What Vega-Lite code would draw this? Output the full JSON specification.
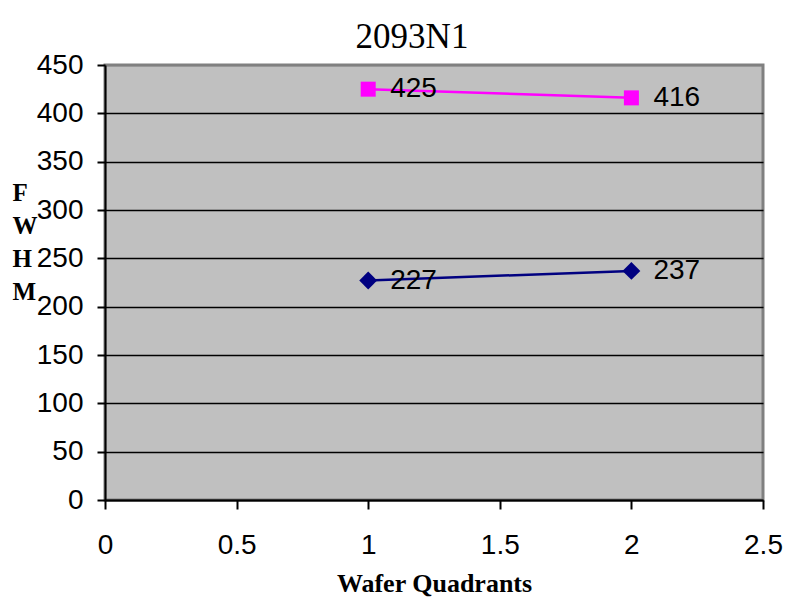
{
  "$schema": "https://vega.github.io/schema/vega-lite/v6.json",
  "width": 658,
  "height": 435,
  "autosize": {"type": "none"},
  "padding": {"left": 105, "top": 65, "right": 34, "bottom": 110},
  "background": "white",
  "title": {
    "text": "2093N1",
    "font": "Liberation Serif",
    "fontSize": 35,
    "fontWeight": "normal",
    "color": "black",
    "anchor": "middle",
    "dx": -22,
    "dy": 39,
    "offset": 0,
    "baseline": "bottom"
  },
  "config": {
    "view": {"fill": "#C0C0C0", "stroke": "#808080", "strokeWidth": 3}
  },
  "data": {
    "values": [
      {"q": 1, "fwhm": 425, "series": "A"},
      {"q": 2, "fwhm": 416, "series": "A"},
      {"q": 1, "fwhm": 227, "series": "B"},
      {"q": 2, "fwhm": 237, "series": "B"}
    ]
  },
  "encoding": {
    "x": {
      "field": "q",
      "type": "quantitative",
      "scale": {"domain": [0, 2.5], "nice": false, "zero": false},
      "axis": {
        "values": [0, 0.5, 1, 1.5, 2, 2.5],
        "format": "~g",
        "grid": false,
        "domainColor": "black",
        "domainWidth": 2,
        "tickColor": "black",
        "tickWidth": 2,
        "tickSize": 9,
        "labelFont": "Liberation Sans",
        "labelFontSize": 28,
        "labelColor": "black",
        "labelPadding": 22,
        "labelFlush": false,
        "labelOverlap": false,
        "title": "Wafer Quadrants",
        "titleFont": "Liberation Serif",
        "titleFontSize": 26,
        "titleFontWeight": "bold",
        "titleColor": "black",
        "titlePadding": 11
      }
    },
    "y": {
      "field": "fwhm",
      "type": "quantitative",
      "scale": {"domain": [0, 450], "nice": false},
      "axis": {
        "values": [0, 50, 100, 150, 200, 250, 300, 350, 400, 450],
        "grid": true,
        "gridColor": {"condition": {"test": "datum.value == 450", "value": "#808080"}, "value": "black"},
        "gridWidth": 1.5,
        "domainColor": "black",
        "domainWidth": 2,
        "tickColor": "black",
        "tickWidth": 2,
        "tickSize": 8,
        "labelFont": "Liberation Sans",
        "labelFontSize": 28,
        "labelColor": "black",
        "labelPadding": 14,
        "labelFlush": false,
        "labelOverlap": false,
        "title": ["F", "W", "H", "M"],
        "titleFont": "Liberation Serif",
        "titleFontSize": 25,
        "titleFontWeight": "bold",
        "titleColor": "black",
        "titleAngle": 0,
        "titleAlign": "left",
        "titleBaseline": "alphabetic",
        "titleLineHeight": 33,
        "titleX": -93,
        "titleY": 135
      }
    }
  },
  "layer": [
    {
      "mark": {"type": "line", "strokeWidth": 2.5},
      "encoding": {
        "color": {
          "field": "series",
          "type": "nominal",
          "scale": {"domain": ["A", "B"], "range": ["#FF00FF", "#000080"]},
          "legend": null
        }
      }
    },
    {
      "mark": {"type": "point", "filled": true, "opacity": 1},
      "encoding": {
        "color": {
          "field": "series",
          "type": "nominal",
          "scale": {"domain": ["A", "B"], "range": ["#FF00FF", "#000080"]},
          "legend": null
        },
        "shape": {
          "field": "series",
          "type": "nominal",
          "scale": {"domain": ["A", "B"], "range": ["square", "diamond"]},
          "legend": null
        },
        "size": {
          "field": "series",
          "type": "nominal",
          "scale": {"domain": ["A", "B"], "range": [225, 320]},
          "legend": null
        }
      }
    },
    {
      "mark": {
        "type": "text",
        "align": "left",
        "baseline": "middle",
        "dx": 22,
        "font": "Liberation Sans",
        "fontSize": 28,
        "color": "black"
      },
      "encoding": {"text": {"field": "fwhm", "type": "quantitative"}}
    }
  ]
}
